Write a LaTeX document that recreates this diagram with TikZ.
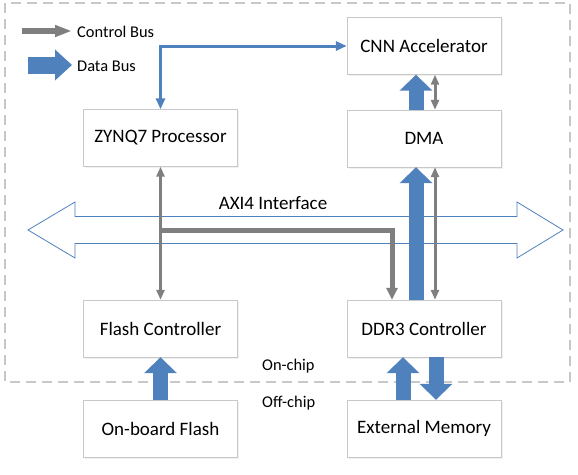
\documentclass[tikz,border=0pt]{standalone}
\usepackage{fontspec}
\setmainfont{Carlito}
\usetikzlibrary{arrows.meta,shadows}
\definecolor{busblue}{HTML}{4F81BD}
\definecolor{busgray}{HTML}{7F7F7F}
\definecolor{edgegray}{HTML}{C8C8C8}
\tikzstyle{block} = [draw=edgegray,fill=white,minimum width=154pt,minimum height=57pt,inner sep=0pt,
  font=\fontsize{19}{22}\selectfont,drop shadow={opacity=.12,shadow xshift=1.5pt,shadow yshift=-1.5pt}]
\tikzstyle{small} = [font=\fontsize{16.4}{19}\selectfont,inner sep=0pt]
\tikzstyle{ctrl} = [draw=busgray,line width=3pt,{Triangle[width=8pt,length=10pt]}-{Triangle[width=8pt,length=10pt]}]
\tikzstyle{ctrlbus} = [draw=busgray,line width=5pt,-{Triangle[width=11pt,length=12pt]}]
\tikzstyle{cfg} = [draw=busblue,line width=3pt,{Triangle[width=9pt,length=11pt]}-{Triangle[width=9pt,length=11pt]}]
\tikzstyle{data} = [draw=busblue,line width=15pt,-{Triangle[width=32pt,length=16pt]}]

\begin{document}
\begin{tikzpicture}[x=1pt,y=-1pt]
\useasboundingbox (0,0) rectangle (578,474);

% on-chip region
\draw[edgegray,line width=1.5pt,dash pattern=on 10pt off 6pt] (5,3) rectangle (570,382);
\node[small,anchor=west] (onchip) at (262,366) {On-chip};
\node[small,anchor=west] (offchip) at (262,403) {Off-chip};

% legend
\coordinate (ctrlA) at (22,31);
\coordinate (ctrlB) at (72,31);
\coordinate (dataA) at (28,65);
\coordinate (dataB) at (72,65);
\draw[busgray,line width=5.5pt,-{Triangle[width=11pt,length=17pt]}] (ctrlA) -- (ctrlB);
\draw[busblue,line width=17pt,-{Triangle[width=30pt,length=17pt]}] (dataA) -- (dataB);
\node[small,anchor=west] (ctrltxt) at (77,32) {Control Bus};
\node[small,anchor=west] (datatxt) at (77,66) {Data Bus};

% AXI4 bus
\draw[busblue,fill=white,line width=.8pt] (28,230) -- (75,202) -- (75,216.5) -- (517,216.5) -- (517,202)
  -- (563,230) -- (517,258) -- (517,243.5) -- (75,243.5) -- (75,258) -- cycle;
\node[font=\fontsize{19}{22}\selectfont,inner sep=0pt] (axitxt) at (273,203) {AXI4 Interface};

% blocks
\node[block] (cnn) at (424,46) {CNN Accelerator};
\node[block] (dma) at (424,138.5) {DMA};
\node[block] (zynq) at (160.5,138) {ZYNQ7 Processor};
\node[block] (flashctl) at (160.5,328.5) {Flash Controller};
\node[block] (ddr) at (424,328.5) {DDR3 Controller};
\node[block] (obflash) at (160.5,428.5) {On-board Flash};
\node[block] (extmem) at (424,428.5) {External Memory};

% control
\coordinate (tap) at (160.5,230);
\draw[cfg] (zynq.north) |- (cnn.west);
\draw[ctrl] (zynq.south) -- (flashctl.north);
\draw[ctrlbus] (tap) -| ([xshift=-32pt]ddr.north);
\draw[ctrl] ([xshift=11pt]ddr.north) -- ([xshift=11pt]dma.south);
\draw[ctrl] ([xshift=11pt]dma.north) -- ([xshift=11pt]cnn.south);

% data
\draw[data] ([xshift=-8pt]ddr.north) -- ([xshift=-8pt]dma.south);
\draw[data] ([xshift=-8pt]dma.north) -- ([xshift=-8pt]cnn.south);
\draw[data] ([xshift=-21pt]extmem.north) -- ([xshift=-21pt]ddr.south);
\draw[data] ([xshift=12pt]ddr.south) -- ([xshift=12pt]extmem.north);
\draw[data] (obflash.north) -- (flashctl.south);

\end{tikzpicture}
\end{document}
